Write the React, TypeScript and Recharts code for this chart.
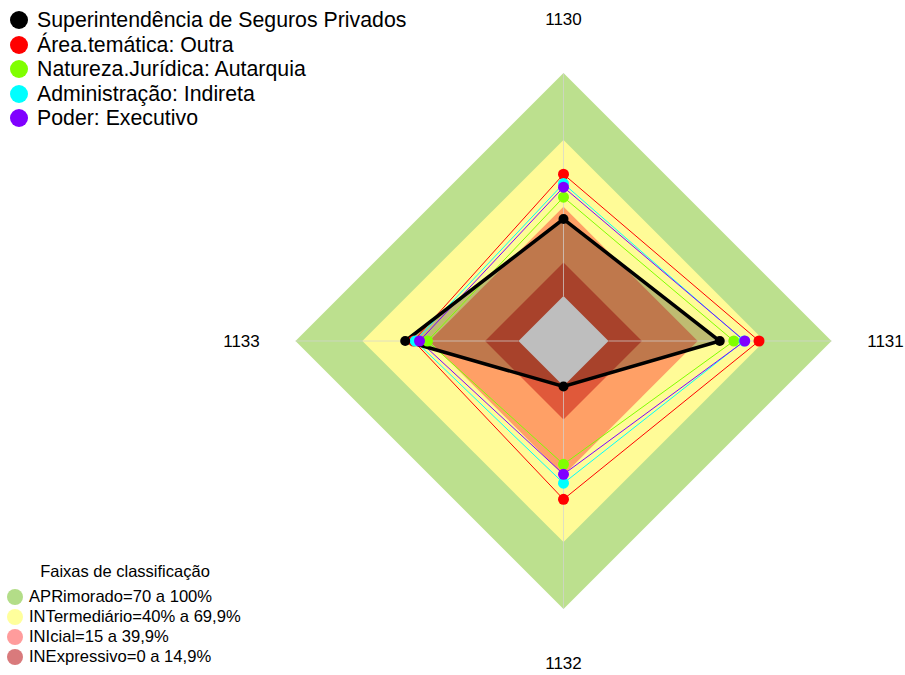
import React from 'react';
import { RadarChart, Radar, PolarGrid, PolarAngleAxis, PolarRadiusAxis } from 'recharts';

const categories = ['1130', '1131', '1132', '1133'];

const superintendencia = [34.5, 49.9, 0.2, 50.8];
const areaTematica = [54.6, 67.5, 50.8, 47.1];
const naturezaJuridica = [44.3, 56.2, 35.1, 40.8];
const administracao = [50.4, 60.8, 43.6, 46.3];
const poder = [48.8, 61.1, 39.6, 44.4];

const bandAprimorado = [100, 100, 100, 100];
const bandIntermediario = [70, 70, 70, 70];
const bandInicial = [40, 40, 40, 40];
const bandInexpressivo = [15, 15, 15, 15];
const bandCentro = [0, 0, 0, 0];

const seriesLegend = [
  { name: 'Superintendência de Seguros Privados', color: '#000000' },
  { name: 'Área.temática: Outra', color: '#FF0000' },
  { name: 'Natureza.Jurídica: Autarquia', color: '#80FF00' },
  { name: 'Administração: Indireta', color: '#00FFFF' },
  { name: 'Poder: Executivo', color: '#8000FF' },
];

const bandLegendTitle = 'Faixas de classificação';
const bandLegend = [
  { name: 'APRimorado=70 a 100%', color: '#B3DD88' },
  { name: 'INTermediário=40% a 69,9%', color: '#FFFF9C' },
  { name: 'INIcial=15 a 39,9%', color: '#FF9C9C' },
  { name: 'INExpressivo=0 a 14,9%', color: '#D97A7C' },
];

const data = categories.map((c, i) => ({
  cat: c,
  sup: superintendencia[i],
  area: areaTematica[i],
  nat: naturezaJuridica[i],
  adm: administracao[i],
  pod: poder[i],
  b100: bandAprimorado[i],
  b70: bandIntermediario[i],
  b40: bandInicial[i],
  b15: bandInexpressivo[i],
  b0: bandCentro[i],
}));

const FONT = '"Liberation Sans", Arial, sans-serif';

const AngleTick = (props: any) => {
  const { x, y, payload } = props;
  return (
    <text x={x} y={y} textAnchor="middle" dominantBaseline="central" fontSize={17} fontFamily={FONT} fill="#000">
      {payload.value}
    </text>
  );
};

const makeDot = (color: string, r: number) => (props: any) => {
  const { cx, cy, index } = props;
  if (cx == null || cy == null) return <g key={`d-${color}-${index}`} />;
  return <circle key={`d-${color}-${index}`} cx={cx} cy={cy} r={r} fill={color} stroke="none" />;
};

export default function App() {
  return (
    <div style={{ position: 'absolute', left: 0, top: 0, width: 905, height: 675, background: '#fff', fontFamily: FONT }}>
      <RadarChart
        width={905}
        height={675}
        data={data}
        cx={563.5}
        cy={341}
        innerRadius={45}
        outerRadius={268}
        margin={{ top: 0, right: 0, bottom: 0, left: 0 }}
      >
        <PolarRadiusAxis domain={[0, 100]} tick={false} axisLine={false} />
        <PolarAngleAxis dataKey="cat" tick={<AngleTick />} tickSize={54} tickLine={false} axisLine={false} />
        <Radar dataKey="b100" fill="#BCE08E" fillOpacity={1} stroke="none" dot={false} isAnimationActive={false} />
        <Radar dataKey="b70" fill="#FFFB97" fillOpacity={1} stroke="none" dot={false} isAnimationActive={false} />
        <Radar dataKey="b40" fill="#FFA066" fillOpacity={1} stroke="none" dot={false} isAnimationActive={false} />
        <Radar dataKey="b15" fill="#E0593A" fillOpacity={1} stroke="none" dot={false} isAnimationActive={false} />
        <Radar dataKey="sup" fill="#000000" fillOpacity={0.25} stroke="none" dot={false} isAnimationActive={false} />
        <Radar dataKey="b0" fill="#BEBEBE" fillOpacity={1} stroke="none" dot={false} isAnimationActive={false} />
        <PolarGrid gridType="polygon" polarRadius={[0]} stroke="#d3d3d3" strokeOpacity={0.7} {...({ zIndex: 150 } as any)} />
        <Radar dataKey="area" fill="none" fillOpacity={0} stroke="#FF0000" strokeWidth={1} dot={makeDot('#FF0000', 5.5)} isAnimationActive={false} {...({ zIndex: 200 } as any)} />
        <Radar dataKey="nat" fill="none" fillOpacity={0} stroke="#80FF00" strokeWidth={1} dot={makeDot('#80FF00', 5.5)} isAnimationActive={false} {...({ zIndex: 200 } as any)} />
        <Radar dataKey="adm" fill="none" fillOpacity={0} stroke="#00FFFF" strokeWidth={1} dot={makeDot('#00FFFF', 5.5)} isAnimationActive={false} {...({ zIndex: 200 } as any)} />
        <Radar dataKey="pod" fill="none" fillOpacity={0} stroke="#8000FF" strokeWidth={1} dot={makeDot('#8000FF', 5.5)} isAnimationActive={false} {...({ zIndex: 200 } as any)} />
        <Radar dataKey="sup" fill="none" fillOpacity={0} stroke="#000000" strokeWidth={3.5} dot={makeDot('#000000', 5)} isAnimationActive={false} {...({ zIndex: 200 } as any)} />
      </RadarChart>

      <div style={{ position: 'absolute', left: 0, top: 0 }}>
        {seriesLegend.map((s, i) => (
          <div key={s.name} style={{ position: 'absolute', left: 0, top: 20 + 24.6 * i - 12, height: 24, width: 460, whiteSpace: 'nowrap' }}>
            <span style={{ position: 'absolute', left: 10, top: 3, width: 18, height: 18, borderRadius: '50%', background: s.color }} />
            <span style={{ position: 'absolute', left: 37, top: 0, lineHeight: '24px', fontSize: 21.3, color: '#000' }}>{s.name}</span>
          </div>
        ))}
      </div>

      <div style={{ position: 'absolute', left: 0, top: 0 }}>
        <div style={{ position: 'absolute', left: 25, top: 561, width: 200, textAlign: 'center', fontSize: 16.5, lineHeight: '20px', whiteSpace: 'nowrap', color: '#000' }}>
          {bandLegendTitle}
        </div>
        {bandLegend.map((b, i) => (
          <div key={b.name} style={{ position: 'absolute', left: 0, top: 597 + 20 * i - 10, height: 20, width: 300, whiteSpace: 'nowrap' }}>
            <span style={{ position: 'absolute', left: 6.5, top: 2, width: 16, height: 16, borderRadius: '50%', background: b.color }} />
            <span style={{ position: 'absolute', left: 29, top: 0, lineHeight: '20px', fontSize: 16.6, color: '#000' }}>{b.name}</span>
          </div>
        ))}
      </div>
    </div>
  );
}
